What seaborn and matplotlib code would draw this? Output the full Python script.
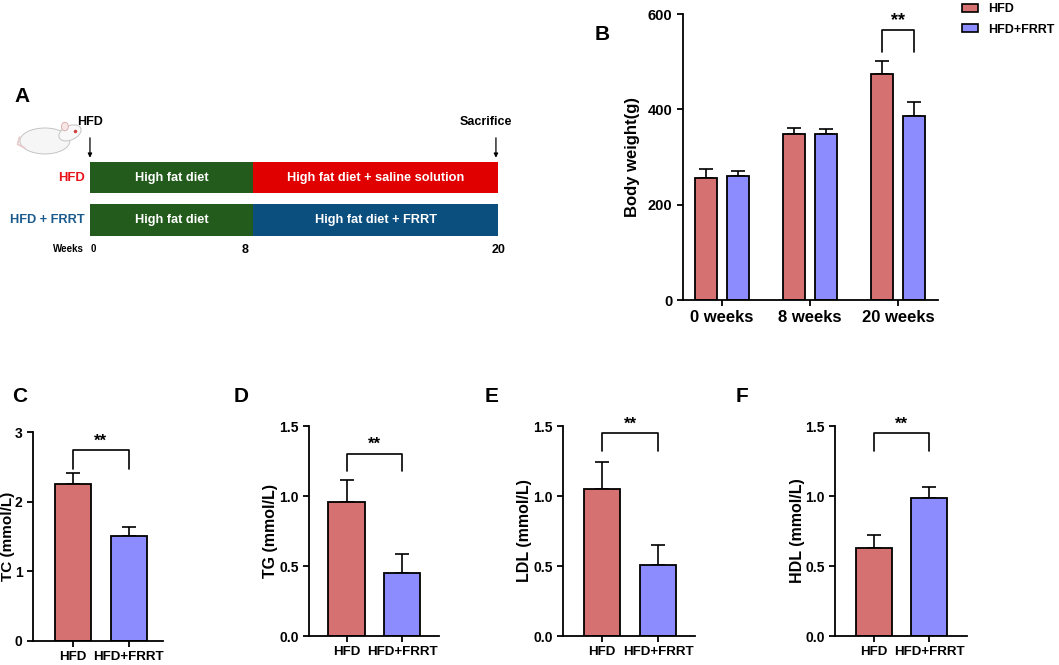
import matplotlib
matplotlib.use("Agg")
import pandas as pd
import matplotlib.pyplot as plt
from matplotlib.patches import Ellipse
import seaborn as sns

# ---- data ----
groups = ["HFD", "HFD+FRRT"]
weeks = ["0 weeks", "8 weeks", "20 weeks"]
bw_hfd = [256, 348, 474]
bw_hfd_err = [19, 13, 28]
bw_frrt = [260, 348, 386]
bw_frrt_err = [10, 10, 29]

tc_mean = [2.25, 1.51]
tc_err = [0.16, 0.13]
tg_mean = [0.96, 0.45]
tg_err = [0.155, 0.135]
ldl_mean = [1.05, 0.507]
ldl_err = [0.19, 0.145]
hdl_mean = [0.627, 0.986]
hdl_err = [0.095, 0.08]

# timeline (panel A)
rows = ["HFD", "HFD + FRRT"]
phase_start = [0, 8]
phase_len = [8, 12]
phase_text = [["High fat diet", "High fat diet + saline solution"],
              ["High fat diet", "High fat diet + FRRT"]]
week_marks = [0, 8, 20]

HFD_COL = "#D57171"
FRRT_COL = "#8C8CFF"
palette = {"HFD": HFD_COL, "HFD+FRRT": FRRT_COL}

sns.set_style("ticks")
plt.rcParams["font.family"] = ["Liberation Sans", "DejaVu Sans"]
plt.rcParams["font.weight"] = "bold"
plt.rcParams["axes.labelweight"] = "bold"
plt.rcParams["axes.linewidth"] = 1.3
for k in ["text.color", "axes.labelcolor", "xtick.color", "ytick.color", "axes.edgecolor"]:
    plt.rcParams[k] = "black"

W, H = 1059, 665
fig = plt.figure(figsize=(W / 100, H / 100), dpi=100)


def box(l, r, t, b):
    return [l / W, 1 - b / H, (r - l) / W, (b - t) / H]


def style_axis(ax, fs):
    sns.despine(ax=ax)
    ax.tick_params(direction="out", length=4, width=1.3, labelsize=fs, colors="black")
    for lab in ax.get_xticklabels() + ax.get_yticklabels():
        lab.set_fontweight("bold")


def add_errors(ax, errs):
    for p, e in zip(ax.patches, errs):
        xc = p.get_x() + p.get_width() / 2
        ax.errorbar(xc, p.get_height(), yerr=[[0], [e]], fmt="none", ecolor="black",
                    elinewidth=1.2, capsize=5, capthick=1.2, zorder=1)


def bracket(ax, x1, x2, top, leg, star_y, fs=12):
    ax.plot([x1, x1, x2, x2], [leg, top, top, leg], color="black", lw=1.2, clip_on=False)
    ax.text((x1 + x2) / 2, star_y, "**", ha="center", va="center", fontsize=fs,
            fontweight="bold", clip_on=False)


# ---- panel A: timeline ----
axA = fig.add_axes(box(0, 560, 100, 270))
axA.set_xlim(-4.41, 23.04)
axA.set_ylim(2.176, -1.824)
axA.axis("off")
# rough stand-in for the rat picture
axA.plot([-3.2, -3.55, -3.45], [-0.7, -0.78, -0.95], color="#E8C8C8", lw=1.2)
axA.add_patch(Ellipse((-2.21, -0.86), 2.45, 0.61, fc="#F6F6F6", ec="#C4C4C4", lw=0.7))
axA.add_patch(Ellipse((-0.98, -1.05), 1.1, 0.35, angle=-8, fc="#F8F8F8", ec="#C4C4C4", lw=0.7))
axA.add_patch(Ellipse((-1.23, -1.2), 0.34, 0.2, fc="#F6E6E6", ec="#D9A8A8", lw=0.6))
axA.plot([-0.75], [-1.1], marker="o", ms=1.5, color="#D04040")
colors_A = [["#235B1C", "#E00000"], ["#235B1C", "#0B4F7F"]]
for i, r in enumerate(rows):
    axA.barh([i] * len(phase_start), phase_len, left=phase_start, height=0.74,
             color=colors_A[i], edgecolor="none")
    for s, l, t in zip(phase_start, phase_len, phase_text[i]):
        axA.text(s + l / 2, i, t, ha="center", va="center", color="white",
                 fontsize=9.2, fontweight="bold")
axA.text(-0.25, 0, rows[0], ha="right", va="center", color="#E8141B", fontsize=9.4)
axA.text(-0.25, 1, rows[1], ha="right", va="center", color="#1B5A8C", fontsize=9.2)
axA.text(-0.3, 1.68, "Weeks", ha="right", va="center", fontsize=7)
axA.text(week_marks[0] + 0.05, 1.68, str(week_marks[0]), ha="left", va="center", fontsize=7)
axA.text(week_marks[1] - 0.4, 1.7, str(week_marks[1]), ha="center", va="center", fontsize=9)
axA.text(week_marks[2] + 0.05, 1.7, str(week_marks[2]), ha="center", va="center", fontsize=9)
axA.annotate("", xy=(0, -0.4), xytext=(0, -1.0),
             arrowprops=dict(arrowstyle="-|>", color="black", lw=0.9, mutation_scale=6))
axA.text(0, -1.3, "HFD", ha="center", va="center", fontsize=9)
axA.annotate("", xy=(19.9, -0.4), xytext=(19.9, -1.0),
             arrowprops=dict(arrowstyle="-|>", color="black", lw=0.9, mutation_scale=6))
axA.text(19.4, -1.3, "Sacrifice", ha="center", va="center", fontsize=9)

# ---- panel B: body weight ----
bw = pd.DataFrame({
    "week": weeks * 2,
    "group": [groups[0]] * 3 + [groups[1]] * 3,
    "weight": bw_hfd + bw_frrt,
})
axB = fig.add_axes(box(683, 938, 14, 300))
sns.barplot(data=bw, x="week", y="weight", hue="group", palette=palette, order=weeks,
            hue_order=groups, width=0.72, gap=0.3, errorbar=None, edgecolor="black",
            linewidth=1.3, saturation=1, legend=False, ax=axB, zorder=2)
add_errors(axB, bw_hfd_err + bw_frrt_err)
axB.set_xlim(-0.443, 2.455)
axB.set_ylim(0, 600)
axB.set_yticks([0, 200, 400, 600])
axB.set_xlabel("")
axB.set_ylabel("Body weight(g)", fontsize=12)
axB.yaxis.set_label_coords(-0.169, 0.5)
style_axis(axB, 10.5)
for lab in axB.get_xticklabels():
    lab.set_fontsize(12)
bracket(axB, 2 - 0.18, 2 + 0.18, 567, 520, 586, fs=13)

handles = [plt.Rectangle((0, 0), 1, 1, facecolor=palette[g], edgecolor="black", lw=1.2)
           for g in groups]
fig.legend(handles, groups, loc="upper left", bbox_to_anchor=(962 / W, 1 - 3 / H),
           frameon=False, borderpad=0, borderaxespad=0, handlelength=1.3,
           handleheight=0.6, handletextpad=0.8, labelspacing=0.7,
           prop={"weight": "bold", "size": 9})

# ---- panels C-F ----
bottom = [
    ("TC (mmol/L)", tc_mean, tc_err, (33, 163, 432, 641), (-0.72, 1.62), 3,
     [0, 1, 2, 3], (2.74, 2.47, 2.87), -0.135, 11),
    ("TG (mmol/L)", tg_mean, tg_err, (309, 439, 426, 636), (-0.676, 1.667), 1.5,
     [0.0, 0.5, 1.0, 1.5], (1.30, 1.18, 1.37), -0.235, 11.5),
    ("LDL (mmol/L)", ldl_mean, ldl_err, (563, 695, 426, 636), (-0.70, 1.66), 1.5,
     [0.0, 0.5, 1.0, 1.5], (1.45, 1.32, 1.515), -0.235, 11.5),
    ("HDL (mmol/L)", hdl_mean, hdl_err, (835, 967, 426, 636), (-0.70, 1.68), 1.5,
     [0.0, 0.5, 1.0, 1.5], (1.45, 1.32, 1.515), -0.227, 11.5),
]
for ylab, means, errs, pos, xl, ymax, yt, br, lx, lfs in bottom:
    ax = fig.add_axes(box(*pos))
    df = pd.DataFrame({"group": groups, "value": means})
    sns.barplot(data=df, x="group", y="value", hue="group", palette=palette, order=groups,
                width=0.65, errorbar=None, edgecolor="black", linewidth=1.3, saturation=1,
                legend=False, ax=ax, zorder=2)
    add_errors(ax, errs)
    ax.set_xlim(*xl)
    ax.set_ylim(0, ymax)
    ax.set_yticks(yt)
    if ymax < 2:
        ax.set_yticklabels([f"{v:.1f}" for v in yt])
    ax.set_xlabel("")
    ax.set_ylabel(ylab, fontsize=lfs)
    ax.yaxis.set_label_coords(lx, 0.5)
    style_axis(ax, 10)
    for lab in ax.get_xticklabels():
        lab.set_fontsize(9.6)
    bracket(ax, 0, 1, br[0], br[1], br[2], fs=12)

# panel letters
for letter, (px, py) in zip("ABCDEF", [(22, 97), (602, 35), (20, 397), (241, 397),
                                        (492, 397), (742, 397)]):
    fig.text(px / W, 1 - py / H, letter, ha="center", va="center", fontsize=15,
             fontweight="bold")

fig.savefig("out.png", dpi=100)
